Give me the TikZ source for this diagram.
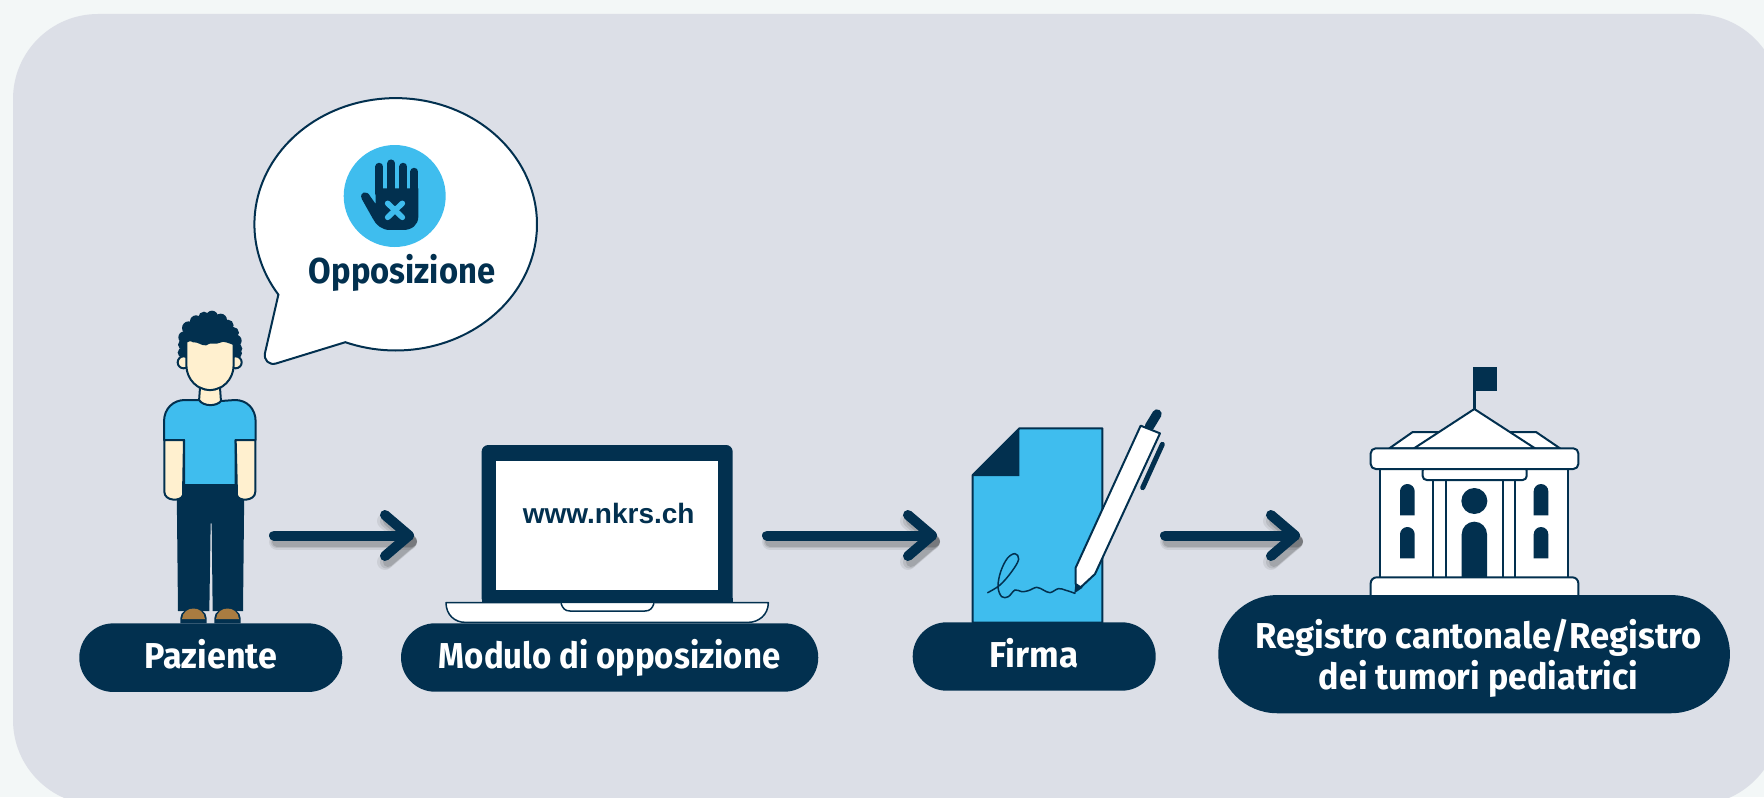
\documentclass[tikz,border=0pt]{standalone}
\usepackage{graphicx}
\usepackage{fontspec}
\setmainfont{Fira Sans}
\newfontfamily\urlfont{Liberation Sans}
\usetikzlibrary{arrows.meta}
\definecolor{navy}{HTML}{02304F}
\definecolor{skyb}{HTML}{3FBDEE}
\definecolor{cream}{HTML}{FFF0CF}
\definecolor{shoe}{HTML}{A97C41}
\definecolor{panel}{HTML}{DCDFE7}
\definecolor{pagebg}{HTML}{F3F7F7}
\newdimen\barbw
\pgfdeclarearrow{
  name=HeavyBarb,
  setup code={
    \barbw=\pgflinewidth
    \pgfarrowssettipend{0.5\barbw}
    \pgfarrowssetlineend{0pt}
    \pgfarrowssetvisualbackend{-12pt}
    \pgfarrowssetbackend{-12pt}
    \pgfarrowshullpoint{0pt}{0pt}
    \pgfarrowssavethe\barbw
  },
  drawing code={
    \pgfsetlinewidth{\barbw}
    \pgfsetroundcap\pgfsetroundjoin
    \pgfpathmoveto{\pgfqpoint{-12pt}{10.25pt}}
    \pgfpathlineto{\pgfqpoint{0pt}{0pt}}
    \pgfpathlineto{\pgfqpoint{-12pt}{-10.25pt}}
    \pgfusepathqstroke
  },
  parameters={\the\pgflinewidth},
}
\newcommand{\shaftarrow}[2]{%
  \foreach \w/\o in {8/0.07,6.5/0.09,5/0.12}{
    \draw[line width=\w pt,line cap=round,line join=round,draw=black,opacity=\o,-{HeavyBarb}]
      ([shift={(3,6)}]#1) -- ([shift={(3,6)}]#2);}
  \draw[arrowline] (#1) -- (#2);}
\tikzset{
  pillbox/.style={fill=navy,rounded corners=#1,inner sep=0pt,text=white,
     font=\fontsize{18}{20.7}\selectfont\bfseries,align=center},
  oneline/.style={text height=10.6pt,text depth=0pt},
  ink/.style={draw=navy,line width=1pt,line join=round},
  thinink/.style={draw=navy,line width=0.75pt,line join=round},
  arrowline/.style={draw=navy,line width=5pt,line cap=round,line join=round,-{HeavyBarb}},
  zoomed/.style={shift={#1},scale=1/3},
}
\begin{document}
\begin{tikzpicture}[x=0.5pt,y=-0.5pt]
\useasboundingbox (0,0) rectangle (1764,797);
\fill[pagebg] (0,0) rectangle (1764,797);
\fill[panel,rounded corners=42.5pt] (13,14) rectangle (1780,805);

% speech bubble
\draw[ink,fill=white] plot[domain=146:471,samples=140] ({395.7+141.3*cos(\x)},{224.3+126.2*sin(\x)})
  -- (345,342.3) -- (276,363.5) .. controls (269,365.5) and (263.5,360) .. (265,353) -- (278.3,295) -- cycle;
\node[circle,fill=skyb,minimum size=51pt,inner sep=0pt] (stopcircle) at (394.7,196) {};
\begin{scope}[zoomed={(130,80)}]
  \fill[navy] (737,325) -- (865,325) -- (865,410) .. controls (865,435) and (845,450) .. (820,450)
    -- (780,450) .. controls (755,450) and (738,435) .. (728,415) -- (696,358)
    .. controls (685,335) and (712,330) .. (720,348) -- (737,372) -- cycle;
  \foreach \a/\b in {748/260,784/250,820/260,853/275}
    \draw[navy,line width=3.9pt,line cap=round] (\a,340) -- (\a,\b);
  \draw[skyb,line width=2.8pt,line cap=round] (773,370) -- (817,412) (817,370) -- (773,412);
\end{scope}
\node[text=navy,font=\fontsize{18}{20.8}\selectfont\bfseries,inner sep=0pt,anchor=base] (opp) at (402,283.3) {\scalebox{0.91}[1]{Opposizione}};

% person
\begin{scope}[zoomed={(70,300)}]
  \fill[navy] plot[smooth cycle] coordinates {(350,180)(335,160)(332,135)(338,105)(352,78)(375,60)(395,50)(425,46)(455,54)(480,72)(498,100)(505,130)(505,165)(495,175)(420,190)};
  \foreach \xx/\yy/\rr in {338/158/15,340/134/16,343/112/18,356/84/20,378/64/18,402/52/17,426/50/18,452/60/19,474/76/17,490/98/17,497/122/18,500/146/17,502/160/14}
    \fill[navy] (\xx,\yy) circle[radius=\rr];
  \draw[ink,fill=cream] (341,187) circle[radius=18];
  \draw[ink,fill=cream] (497,187) circle[radius=18];
  \draw[ink,fill=cream] (349,125) .. controls (352,122) and (362,118) .. (370,124) .. controls (385,122) and (395,135) .. (408,133) .. controls (420,122) and (440,132) .. (450,125) .. controls (460,118) and (480,128) .. (491,132) -- (491,195) .. controls (491,240) and (455,271) .. (420,271) .. controls (385,271) and (349,240) .. (349,195) -- cycle;
  \draw[ink,fill=cream] (390,263) -- (387,305) .. controls (400,320) and (440,320) .. (453,305) -- (450,263) .. controls (430,273) and (410,273) .. (390,263) -- cycle;
  \fill[navy] (320,550) -- (523,550) -- (519,933) -- (428,933) -- (425,670) -- (422,670) -- (418,933) -- (324,933) -- cycle;
  \draw[ink,fill=skyb] (282,420) -- (282,365) .. controls (282,325) and (310,300) .. (345,300) -- (387,300) .. controls (400,320) and (440,320) .. (453,303) -- (495,300) .. controls (530,300) and (557,325) .. (557,365) -- (557,420) -- (497,420) -- (497,555) -- (342,555) -- (342,420) -- cycle;
  \draw[ink,fill=cream] (283,420) -- (342,420) -- (339,585) .. controls (335,605) and (283,605) .. (283,575) -- cycle;
  \draw[ink,fill=cream] (497,420) -- (556,420) -- (556,575) .. controls (556,605) and (503,605) .. (501,585) -- cycle;
  \fill[navy] (331,970) -- (331,955) .. controls (331,915) and (410,915) .. (410,955) -- (410,970) -- cycle;
  \fill[navy] (433,970) -- (433,955) .. controls (433,915) and (512,915) .. (512,955) -- (512,970) -- cycle;
  \fill[shoe] (336,957) .. controls (340,915) and (401,915) .. (405,957) -- cycle;
  \fill[shoe] (438,957) .. controls (442,915) and (503,915) .. (507,957) -- cycle;
\end{scope}

% laptop
\begin{scope}[zoomed={(400,430)}]
  \fill[navy,rounded corners=3.3pt] (245,525) -- (245,45) -- (998,45) -- (998,525) -- cycle;
  \fill[white] (288,93) rectangle (955,481);
  \draw[thinink,fill=white] (138,518) -- (1105,518) .. controls (1105,555) and (1075,577) .. (1045,577) -- (195,577) .. controls (165,577) and (138,555) .. (138,518) -- cycle;
  \draw[thinink,fill=white] (483,520) .. controls (488,535) and (495,543) .. (510,543) -- (735,543) .. controls (750,543) and (757,535) .. (762,520);
  \fill[navy] (245,505) rectangle (998,520);
\end{scope}
\node[text=navy,font=\urlfont\fontsize{14}{16}\selectfont\bfseries,inner sep=0pt,anchor=base] (url) at (608.7,523.3) {www.nkrs.ch};

% document + pen
\begin{scope}[zoomed={(900,400)}]
  \draw[ink,fill=skyb] (218,225) -- (358,85) -- (607,85) -- (607,668) -- (218,668) -- cycle;
  \fill[navy] (218,225) -- (358,85) -- (358,228) -- (218,228) -- cycle;
  \draw[navy,line width=0.75pt,line cap=round] plot[smooth,tension=0.6] coordinates {(263,578)(300,555)(335,515)(356,478)(345,461)(322,475)(302,515)(294,560)(305,590)(325,590)(345,570)(365,575)(385,572)(410,562)(430,570)(450,578)(475,566)(495,570)(525,580)};
  \draw[navy,line width=4.7pt,line cap=round] (748,80) -- (771,42);
  \draw[navy,line width=2.5pt,line cap=round] (728,263) -- (787,133);
  \fill[navy] (523,580) -- (526,552) -- (548,563) -- cycle;
  \draw[ink,fill=white] (722,77) -- (780,100) -- (585,522) -- (542,562) -- (527,552) -- (527,503) -- cycle;
\end{scope}

% building
\begin{scope}[zoomed={(1340,355)}]
  \draw[navy,line width=1.6pt] (403,165) -- (403,40);
  \fill[navy] (398,36) rectangle (471,108);
  \draw[ink,fill=white] (148,280) -- (218,231) -- (588,231) -- (660,280) -- cycle;
  \draw[ink,fill=white] (222,280) -- (403,162) -- (585,280) -- cycle;
  \draw[ink,fill=white] (121,342) rectangle (685,668);
  \draw[ink,fill=white,rounded corners=2pt] (248,335) -- (248,375) -- (560,375) -- (560,335) -- cycle;
  \draw[ink,fill=white,rounded corners=2.5pt] (92,280) rectangle (715,342);
  \foreach \c in {280,318,488,526} \draw[ink] (\c,375) -- (\c,667);
  \foreach \l/\t/\b in {180/387/481,180/516/610,581/387/481,581/516/610}
    \fill[navy] (\l,\b) -- (\l,\t+22) arc[start angle=180,end angle=0,x radius=22,y radius=-22] -- (\l+44,\b) -- cycle;
  \fill[navy] (403,438) circle[radius=39];
  \fill[navy] (365,668) -- (365,538) arc[start angle=180,end angle=0,x radius=38,y radius=-38] -- (441,668) -- cycle;
  \draw[ink,fill=white,rounded corners=3pt] (92,725) -- (92,667) -- (715,667) -- (715,725);
\end{scope}

% label pills
\node[pillbox=17pt,oneline,minimum width=131.5pt,minimum height=34.3pt] (paziente) at (210.8,657.65) {\scalebox{0.947}[1]{Paziente}};
\node[pillbox=17pt,oneline,minimum width=208.6pt,minimum height=34.2pt] (modulo) at (609.65,657.5) {\scalebox{0.916}[1]{Modulo di opposizione}};
\node[pillbox=17pt,oneline,minimum width=121.5pt,minimum height=34.2pt] (firma) at (1034.2,656.5) {\scalebox{0.973}[1]{Firma}};
\node[pillbox=29.5pt,minimum width=255.8pt,minimum height=59.1pt] (registro) at (1474.1,654.15) {\hspace*{4.5pt}\rule{0pt}{18.6pt}\scalebox{0.961}[1]{Registro cantonale/Registro}\\\hspace*{4.5pt}\scalebox{0.945}[1]{dei tumori pediatrici}};

% arrows
\coordinate (a1s) at (274,535.5); \coordinate (a1e) at (414,535.5);
\coordinate (a2s) at (767,535.5); \coordinate (a2e) at (937,535.5);
\coordinate (a3s) at (1165,535.5); \coordinate (a3e) at (1300,535.5);
\shaftarrow{a1s}{a1e}
\shaftarrow{a2s}{a2e}
\shaftarrow{a3s}{a3e}
\end{tikzpicture}
\end{document}
